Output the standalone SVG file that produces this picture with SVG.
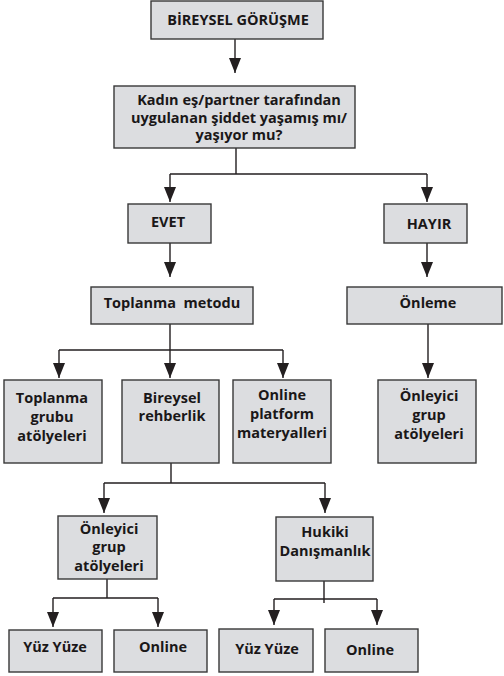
<svg xmlns="http://www.w3.org/2000/svg" width="504" height="676" viewBox="0 0 504 676">
<style>
.b{fill:#dcdde0;stroke:#383838;stroke-width:1.4}
.t{font-family:"Open Sans","Liberation Sans",sans-serif;font-weight:bold;font-size:14.5px;fill:#1a1718;text-anchor:middle}
.c{fill:none;stroke:#231f20;stroke-width:1.4}
</style>
<defs>
<marker id="ad" markerUnits="userSpaceOnUse" markerWidth="12" markerHeight="16" viewBox="-6 -15 12 16" refX="0" refY="0" orient="0">
<path d="M-6,-15 L6,-15 L0,0 Z" fill="#231f20"/>
</marker>
</defs>
<g id="connectors">
<path class="c" d="M235 39V73" marker-end="url(#ad)"/>
<path class="c" d="M236 148V174M170 174H427"/>
<path class="c" d="M170 174V202" marker-end="url(#ad)"/>
<path class="c" d="M427 174V202" marker-end="url(#ad)"/>
<path class="c" d="M170 243V277" marker-end="url(#ad)"/>
<path class="c" d="M427 243V277" marker-end="url(#ad)"/>
<path class="c" d="M170 324V350M59 350H283"/>
<path class="c" d="M59 350V378" marker-end="url(#ad)"/>
<path class="c" d="M170 350V378" marker-end="url(#ad)"/>
<path class="c" d="M283 350V378" marker-end="url(#ad)"/>
<path class="c" d="M428 324V378" marker-end="url(#ad)"/>
<path class="c" d="M171 463V483M104 483H325"/>
<path class="c" d="M104 483V513" marker-end="url(#ad)"/>
<path class="c" d="M325 483V513" marker-end="url(#ad)"/>
<path class="c" d="M107 579V598M53 598H158"/>
<path class="c" d="M53 598V627" marker-end="url(#ad)"/>
<path class="c" d="M158 598V627" marker-end="url(#ad)"/>
<path class="c" d="M324 581V603M274 599H377"/>
<path class="c" d="M274 599V625" marker-end="url(#ad)"/>
<path class="c" d="M377 599V625" marker-end="url(#ad)"/>
</g>
<g id="n1"><rect class="b" x="151" y="1" width="172" height="38"/><text class="t" x="238" y="25">BİREYSEL GÖRÜŞME</text></g>
<g id="n2"><rect class="b" x="114" y="86" width="241" height="62"/><text class="t"><tspan x="239" y="105">Kadın eş/partner tarafından</tspan><tspan x="239" y="122.5">uygulanan şiddet yaşamış mı/</tspan><tspan x="239" y="140">yaşıyor mu?</tspan></text></g>
<g id="evet"><rect class="b" x="128" y="204" width="83" height="39"/><text class="t" x="168" y="227">EVET</text></g>
<g id="hayir"><rect class="b" x="384" y="204" width="83" height="39"/><text class="t" x="429" y="229">HAYIR</text></g>
<g id="toplanma"><rect class="b" x="91" y="287" width="162" height="37"/><text class="t" x="172" y="308" xml:space="preserve">Toplanma  metodu</text></g>
<g id="onleme"><rect class="b" x="347" y="287" width="155" height="37"/><text class="t" x="428" y="308">Önleme</text></g>
<g id="tga"><rect class="b" x="4" y="380" width="98" height="83"/><text class="t"><tspan x="52" y="403">Toplanma</tspan><tspan x="52" y="422">grubu</tspan><tspan x="52" y="441">atölyeleri</tspan></text></g>
<g id="br"><rect class="b" x="122" y="380" width="97" height="83"/><text class="t"><tspan x="172" y="403">Bireysel</tspan><tspan x="172" y="421">rehberlik</tspan></text></g>
<g id="opm"><rect class="b" x="233" y="380" width="98" height="83"/><text class="t"><tspan x="282" y="400">Online</tspan><tspan x="282" y="419">platform</tspan><tspan x="282" y="438">materyalleri</tspan></text></g>
<g id="oga2"><rect class="b" x="378" y="380" width="98" height="83"/><text class="t"><tspan x="429" y="401">Önleyici</tspan><tspan x="429" y="420">grup</tspan><tspan x="429" y="439">atölyeleri</tspan></text></g>
<g id="oga1"><rect class="b" x="58" y="516" width="99" height="63"/><text class="t"><tspan x="109" y="534">Önleyici</tspan><tspan x="109" y="552">grup</tspan><tspan x="109" y="571">atölyeleri</tspan></text></g>
<g id="hukiki"><rect class="b" x="276" y="517" width="97" height="64"/><text class="t"><tspan x="325" y="537">Hukiki</tspan><tspan x="325" y="556">Danışmanlık</tspan></text></g>
<g id="yy1"><rect class="b" x="9" y="630" width="93" height="42"/><text class="t" x="55" y="652">Yüz Yüze</text></g>
<g id="on1"><rect class="b" x="114" y="630" width="93" height="42"/><text class="t" x="163" y="652">Online</text></g>
<g id="yy2"><rect class="b" x="219" y="629" width="94" height="43"/><text class="t" x="267" y="654">Yüz Yüze</text></g>
<g id="on2"><rect class="b" x="325" y="629" width="93" height="43"/><text class="t" x="370" y="655">Online</text></g>
</svg>
